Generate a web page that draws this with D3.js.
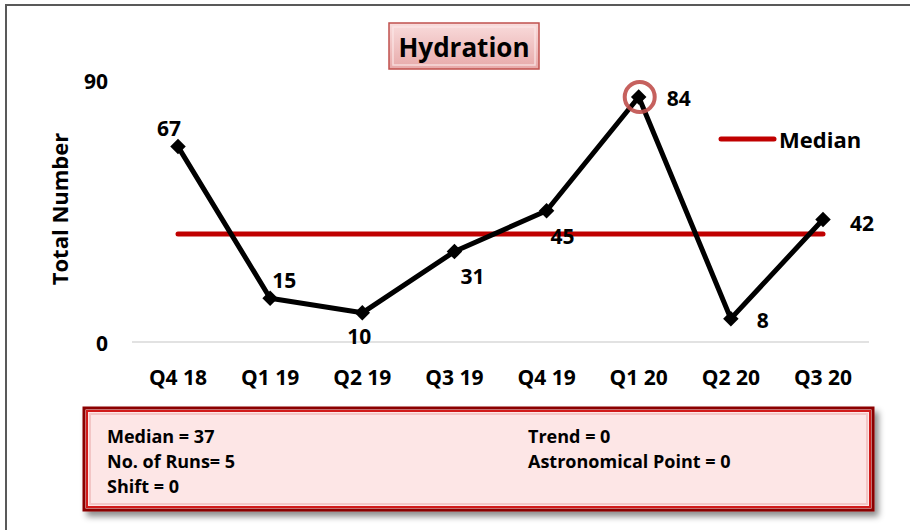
<!DOCTYPE html>
<html>
<head>
<meta charset="utf-8">
<script src="https://cdn.jsdelivr.net/npm/d3@7"></script>
<style>
  html, body { margin: 0; padding: 0; background: #fff; }
  svg { display: block; font-family: "Open Sans", Lato, sans-serif; font-weight: bold; }
</style>
</head>
<body>
<svg id="chart" width="910" height="530"></svg>
<script>
// Quarterly hydration counts
const categories = ["Q4 18", "Q1 19", "Q2 19", "Q3 19", "Q4 19", "Q1 20", "Q2 20", "Q3 20"];
const totals = [67, 15, 10, 31, 45, 84, 8, 42];
const medianValue = 37;
const yTicks = [0, 90];
const statsLeft = ["Median = 37", "No. of Runs= 5", "Shift = 0"];
const statsRight = ["Trend = 0", "Astronomical Point = 0"];
const highlighted = ["Q1 20"];

const svg = d3.select("#chart");
const defs = svg.append("defs");

const shadow = defs.append("filter").attr("id", "shadow")
  .attr("x", "-5%").attr("y", "-20%").attr("width", "115%").attr("height", "150%");
shadow.append("feDropShadow").attr("dx", 4).attr("dy", 5).attr("stdDeviation", 3)
  .attr("flood-color", "#000").attr("flood-opacity", 0.45);

const titleGrad = defs.append("linearGradient").attr("id", "titleGrad")
  .attr("x1", 0).attr("y1", 0).attr("x2", 0).attr("y2", 1);
titleGrad.append("stop").attr("offset", "0%").attr("stop-color", "#f9dcdc");
titleGrad.append("stop").attr("offset", "100%").attr("stop-color", "#e7a9a9");

// Outer frame (top and left edges)
svg.append("path").attr("d", "M6,530 L6,5 L910,5")
  .attr("fill", "none").attr("stroke", "#595959").attr("stroke-width", 2);

const x = d3.scalePoint().domain(categories).range([178, 823]);
const y = d3.scaleLinear().domain([0, 90]).range([342, 79.5]);

// Baseline gridline
svg.append("line")
  .attr("x1", 132).attr("x2", 869)
  .attr("y1", y(0)).attr("y2", y(0))
  .attr("stroke", "#d9d9d9").attr("stroke-width", 1.5);

// Y tick labels
svg.append("g").selectAll("text").data(yTicks).join("text")
  .attr("x", 108).attr("y", d => y(d) + 1)
  .attr("text-anchor", "end").attr("dominant-baseline", "central")
  .attr("font-size", 21).text(d => d);

// Y axis title
svg.append("text")
  .attr("transform", "translate(59,209) rotate(-90)")
  .attr("text-anchor", "middle").attr("dominant-baseline", "central")
  .attr("font-size", 22).text("Total Number");

// X axis labels
svg.append("g").selectAll("text").data(categories).join("text")
  .attr("x", d => x(d)).attr("y", 377)
  .attr("text-anchor", "middle").attr("dominant-baseline", "central")
  .attr("font-size", 21).text(d => d);

// Median line
svg.append("line")
  .attr("x1", x(categories[0])).attr("x2", x(categories[categories.length - 1]))
  .attr("y1", y(medianValue)).attr("y2", y(medianValue))
  .attr("stroke", "#c00000").attr("stroke-width", 5).attr("stroke-linecap", "round");

// Data line
const pts = categories.map((c, i) => ({ c, v: totals[i] }));
svg.append("path").datum(pts)
  .attr("d", d3.line().x(d => x(d.c)).y(d => y(d.v)))
  .attr("fill", "none").attr("stroke", "#000").attr("stroke-width", 5)
  .attr("stroke-linejoin", "round");

// Diamond markers
svg.append("g").selectAll("path").data(pts).join("path")
  .attr("transform", d => `translate(${x(d.c)},${y(d.v)}) rotate(45)`)
  .attr("d", d3.symbol().type(d3.symbolSquare).size(120))
  .attr("fill", "#000");

// Highlight ring
svg.append("g").selectAll("circle").data(pts.filter(d => highlighted.includes(d.c))).join("circle")
  .attr("cx", d => x(d.c) + 1).attr("cy", d => y(d.v))
  .attr("r", 15).attr("fill", "none")
  .attr("stroke", "#c0504d").attr("stroke-opacity", 0.9).attr("stroke-width", 4);

// Value labels, placed around each point
const placement = [
  { dx: -9, dy: -19 }, { dx: 14, dy: -18 }, { dx: -3, dy: 23 }, { dx: 18, dy: 24 },
  { dx: 16, dy: 25 }, { dx: 40, dy: 1 }, { dx: 32, dy: 1 }, { dx: 39, dy: 3 }
];
svg.append("g").selectAll("text").data(pts).join("text")
  .attr("x", (d, i) => x(d.c) + placement[i].dx)
  .attr("y", (d, i) => y(d.v) + placement[i].dy)
  .attr("text-anchor", "middle").attr("dominant-baseline", "central")
  .attr("font-size", 21).text(d => d.v);

// Legend
svg.append("line").attr("x1", 721).attr("x2", 774).attr("y1", 139).attr("y2", 139)
  .attr("stroke", "#c00000").attr("stroke-width", 5).attr("stroke-linecap", "round");
svg.append("text").attr("x", 779).attr("y", 139)
  .attr("dominant-baseline", "central").attr("font-size", 22).text("Median");

// Title box
const tg = svg.append("g");
tg.append("rect").attr("x", 389).attr("y", 23).attr("width", 150).attr("height", 46)
  .attr("fill", "url(#titleGrad)").attr("stroke", "#c0504d").attr("stroke-width", 1.5);
tg.append("rect").attr("x", 393).attr("y", 27).attr("width", 142).attr("height", 38)
  .attr("fill", "none").attr("stroke", "#fbe6e6").attr("stroke-width", 1.5).attr("opacity", 0.8);
tg.append("text").attr("x", 464).attr("y", 47)
  .attr("text-anchor", "middle").attr("dominant-baseline", "central")
  .attr("font-size", 26).text("Hydration");

// Statistics box
const sb = svg.append("g");
sb.append("rect").attr("x", 84).attr("y", 408).attr("width", 789).attr("height", 102)
  .attr("fill", "#fde6e6").attr("stroke", "#8b0000").attr("stroke-width", 3)
  .attr("filter", "url(#shadow)");
sb.append("rect").attr("x", 87).attr("y", 411).attr("width", 783).attr("height", 96)
  .attr("fill", "none").attr("stroke", "#d11a1a").attr("stroke-width", 2);
sb.append("rect").attr("x", 90).attr("y", 414).attr("width", 777).attr("height", 90)
  .attr("fill", "none").attr("stroke", "#f3c6c6").attr("stroke-width", 2);

sb.append("g").selectAll("text").data(statsLeft).join("text")
  .attr("x", 107).attr("y", (d, i) => 436 + i * 25)
  .attr("dominant-baseline", "central").attr("font-size", 18).text(d => d);
sb.append("g").selectAll("text").data(statsRight).join("text")
  .attr("x", 528).attr("y", (d, i) => 436 + i * 25)
  .attr("dominant-baseline", "central").attr("font-size", 18).text(d => d);
</script>
</body>
</html>
